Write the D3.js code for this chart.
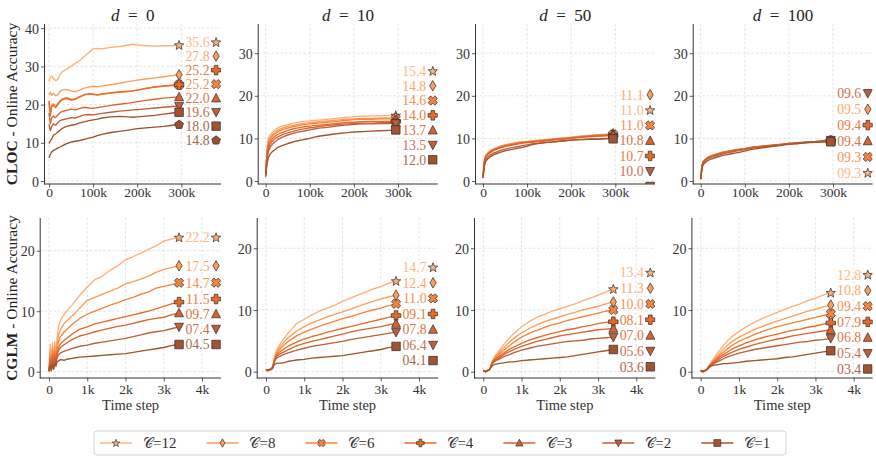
<!DOCTYPE html>
<html><head><meta charset="utf-8">
<script src="https://cdn.jsdelivr.net/npm/d3@7"></script>
<style>body{margin:0;background:#fff} svg{display:block}</style>
</head><body><svg id="c" width="876" height="456"></svg>
<script>
// ---------- data ----------
const seriesCount = [12, 8, 6, 4, 3, 2, 1];
const seriesMarkers = ["star", "thin_diamond", "X", "P", "tri_up", "tri_down", "square"];
const seriesColors = ["#fdb07a", "#fd9d5a", "#f6843e", "#e96b26", "#d7642f", "#bf5e38", "#a3532e"];
const extraMarker = "pentagon";
const extraColor = "#9a5030";
const datasetNames = ["CLOC", "CGLM"];
const delays = [0, 10, 50, 100];
const xTicksCLOC = [0, 100000, 200000, 300000];
const xTickLabelsCLOC = ["0", "100k", "200k", "300k"];
const xTicksCGLM = [0, 1000, 2000, 3000, 4000];
const xTickLabelsCGLM = ["0", "1k", "2k", "3k", "4k"];
const yTicksCLOCd0 = [0, 10, 20, 30, 40];
const yTicksCLOC = [0, 10, 20, 30];
const yTicksCGLM = [0, 10, 20];

const stepsCLOC = [0,3,6,10,15,20,25,30,40,50,60,70,80,90,100,110,120,140,160,180,190,200,220,240,260,280,295].map(v => v * 1000);
const stepsCGLM = [0,0.03,0.06,0.09,0.12,0.15,0.18,0.21,0.25,0.3,0.4,0.5,0.6,0.7,0.8,1.0,1.2,1.4,1.6,1.8,2.0,2.2,2.4,2.6,2.8,3.0,3.2,3.4].map(v => v * 1000);

// CLOC d=0: C=12,8,6,4,3,2,1 and one extra run (pentagon)
const clocD0 = [
  [26.0,27.2,27.5,26.8,26.3,26.6,27.8,28.6,29.3,30.0,30.8,31.6,32.6,33.6,34.6,34.7,34.6,35.0,35.2,35.6,35.8,35.6,35.4,35.3,35.4,35.4,35.6],
  [22.5,23.2,22.4,23.0,22.3,22.6,23.4,23.8,24.0,23.6,23.4,23.8,24.3,24.6,24.8,24.7,24.9,25.2,25.6,26.0,26.2,26.4,26.7,27.0,27.3,27.6,27.8],
  [20.5,18.0,19.8,20.2,19.6,20.3,21.0,21.5,21.8,21.4,21.5,22.1,22.5,22.9,22.8,22.6,22.8,23.1,23.3,23.4,23.6,23.8,24.3,24.6,24.8,25.0,25.18],
  [21.0,17.0,19.5,19.8,19.2,20.0,20.8,21.3,21.6,21.2,21.4,22.0,22.6,22.8,22.6,22.5,22.7,23.0,23.3,23.5,23.6,23.8,24.2,24.6,24.9,25.1,25.22],
  [17.8,15.0,16.5,17.0,16.6,17.3,17.9,18.2,18.5,18.8,18.6,19.0,19.3,19.1,19.0,19.2,19.4,19.8,20.1,20.4,20.6,20.8,21.1,21.4,21.7,21.9,22.0],
  [14.8,13.2,14.2,15.0,14.6,15.3,15.8,16.0,16.3,16.6,16.5,16.9,17.3,17.4,17.3,17.5,17.7,18.0,18.3,18.5,18.6,18.7,18.9,19.1,19.3,19.5,19.6],
  [9.8,10.5,11.0,12.0,12.3,12.8,13.3,13.8,14.3,14.6,14.8,15.2,15.5,15.8,16.0,16.2,16.5,16.8,16.9,16.8,16.7,16.8,17.0,17.2,17.5,17.8,18.0],
  [6.0,7.0,7.6,8.0,8.3,8.6,8.9,9.2,9.8,10.2,10.4,10.6,10.9,11.2,11.5,11.9,12.2,12.7,13.0,13.3,13.5,13.7,13.9,14.1,14.3,14.6,14.8]
];
const clocD10 = [
  [2.5,7.5,10.0,10.8,11.4,11.9,12.3,12.6,13.0,13.2,13.5,13.7,13.9,14.0,14.1,14.2,14.3,14.5,14.7,14.9,15.0,15.1,15.2,15.3,15.3,15.4,15.4],
  [2.2,7.0,9.4,10.3,10.9,11.4,11.8,12.1,12.5,12.8,13.0,13.2,13.4,13.6,13.7,13.8,13.9,14.1,14.3,14.5,14.5,14.6,14.7,14.7,14.8,14.8,14.8],
  [2.0,6.6,8.9,9.8,10.5,11.0,11.4,11.7,12.1,12.4,12.7,12.9,13.1,13.3,13.4,13.5,13.6,13.8,14.0,14.2,14.3,14.4,14.5,14.5,14.6,14.6,14.6],
  [1.8,6.1,8.3,9.2,9.9,10.4,10.8,11.1,11.5,11.9,12.2,12.4,12.6,12.8,12.9,13.0,13.1,13.3,13.5,13.7,13.8,13.8,13.9,14.0,14.0,14.0,14.0],
  [1.5,5.6,7.7,8.6,9.3,9.8,10.2,10.5,11.0,11.3,11.6,11.9,12.1,12.3,12.5,12.6,12.8,13.0,13.2,13.4,13.4,13.5,13.6,13.6,13.7,13.7,13.7],
  [1.3,5.0,7.0,7.9,8.6,9.1,9.5,9.9,10.4,10.8,11.1,11.4,11.6,11.8,12.0,12.2,12.4,12.6,12.9,13.1,13.2,13.3,13.4,13.4,13.5,13.5,13.5],
  [1.0,4.0,5.5,6.3,6.9,7.3,7.7,8.0,8.4,8.8,9.1,9.4,9.6,9.8,10.0,10.3,10.5,10.8,11.1,11.3,11.4,11.5,11.6,11.7,11.8,11.9,12.0]
];
const clocD50 = [
  [1.0,4.5,5.8,6.3,6.8,7.1,7.4,7.6,8.0,8.3,8.5,8.7,8.9,9.1,9.2,9.3,9.4,9.6,9.8,10.0,10.1,10.2,10.4,10.6,10.8,10.9,11.04],
  [1.2,4.8,6.0,6.5,7.0,7.3,7.6,7.8,8.2,8.5,8.7,8.9,9.1,9.2,9.3,9.4,9.5,9.7,9.9,10.1,10.2,10.3,10.5,10.7,10.9,11.0,11.1],
  [1.0,4.6,5.9,6.4,6.9,7.2,7.5,7.7,8.1,8.4,8.6,8.8,9.0,9.1,9.2,9.3,9.4,9.6,9.8,10.0,10.1,10.2,10.4,10.6,10.8,10.9,10.97],
  [0.9,4.3,5.6,6.1,6.6,6.9,7.2,7.4,7.8,8.1,8.3,8.5,8.7,8.9,9.0,9.1,9.2,9.4,9.6,9.8,9.9,10.0,10.2,10.4,10.5,10.6,10.7],
  [0.9,4.4,5.7,6.2,6.7,7.0,7.3,7.5,7.9,8.2,8.4,8.6,8.8,9.0,9.1,9.2,9.3,9.5,9.7,9.9,10.0,10.1,10.3,10.5,10.6,10.7,10.8],
  [0.8,3.8,5.0,5.5,6.0,6.3,6.6,6.8,7.2,7.5,7.7,7.9,8.1,8.3,8.5,8.7,8.8,9.0,9.2,9.4,9.5,9.6,9.7,9.8,9.9,10.0,10.0],
  [0.7,3.5,4.6,5.1,5.6,5.9,6.2,6.4,6.8,7.1,7.3,7.5,7.7,7.9,8.2,8.5,8.7,9.0,9.2,9.4,9.5,9.6,9.7,9.8,9.8,9.9,9.9]
];
const clocD100 = [
  [0.5,3.5,4.5,4.9,5.3,5.6,5.8,6.0,6.3,6.6,6.8,7.0,7.2,7.4,7.5,7.7,7.9,8.1,8.3,8.5,8.6,8.7,8.8,9.0,9.1,9.2,9.27],
  [0.6,3.7,4.7,5.1,5.5,5.8,6.0,6.2,6.5,6.8,7.0,7.2,7.4,7.5,7.6,7.8,8.0,8.2,8.4,8.6,8.7,8.8,8.9,9.1,9.2,9.4,9.5],
  [0.5,3.6,4.6,5.0,5.4,5.7,5.9,6.1,6.4,6.7,6.9,7.1,7.3,7.4,7.5,7.7,7.9,8.1,8.3,8.5,8.6,8.7,8.8,9.0,9.1,9.2,9.33],
  [0.5,3.6,4.6,5.0,5.4,5.7,5.9,6.1,6.4,6.7,6.9,7.1,7.3,7.5,7.6,7.8,8.0,8.2,8.4,8.6,8.7,8.8,8.9,9.1,9.2,9.3,9.43],
  [0.5,3.5,4.5,4.9,5.3,5.6,5.8,6.0,6.3,6.6,6.8,7.0,7.2,7.4,7.5,7.7,7.9,8.1,8.3,8.5,8.6,8.7,8.9,9.0,9.2,9.3,9.38],
  [0.4,3.3,4.3,4.7,5.1,5.4,5.6,5.8,6.1,6.4,6.6,6.8,7.0,7.2,7.4,7.6,7.8,8.1,8.3,8.5,8.7,8.8,9.0,9.2,9.3,9.5,9.6],
  [0.4,3.0,3.9,4.3,4.7,5.0,5.2,5.4,5.7,6.0,6.2,6.4,6.6,6.8,7.0,7.3,7.5,7.8,8.1,8.3,8.5,8.6,8.8,9.0,9.1,9.2,9.2]
];
const cglmD0 = [
  [0.2,4.5,0.8,4.8,1.5,5.0,3.0,5.5,7.5,8.5,9.5,10.3,11.0,11.8,12.6,14.0,15.2,15.8,16.8,17.5,18.5,19.0,19.6,20.2,20.8,21.6,21.9,22.2],
  [0.1,3.5,0.5,4.0,1.2,4.2,2.5,4.5,6.0,7.0,8.0,8.6,9.2,9.8,10.5,11.8,12.3,12.8,13.3,13.8,14.5,14.9,15.3,15.8,16.4,16.9,17.2,17.5],
  [0.1,2.8,0.4,3.5,1.0,3.6,2.0,3.8,5.0,5.8,6.6,7.2,7.8,8.3,8.8,9.5,10.0,10.5,11.0,11.4,11.9,12.3,12.8,13.2,13.8,14.1,14.4,14.7],
  [0.1,2.2,0.3,2.8,0.8,3.0,1.6,3.2,4.0,4.6,5.2,5.7,6.2,6.6,7.0,7.4,7.9,8.2,8.5,8.8,9.1,9.4,9.7,10.0,10.4,10.8,11.2,11.5],
  [0.1,1.8,0.3,2.4,0.6,2.5,1.4,2.8,3.5,4.0,4.5,4.9,5.3,5.6,5.9,6.2,6.6,6.9,7.2,7.5,7.7,8.0,8.3,8.6,8.8,9.0,9.4,9.7],
  [0.1,1.4,0.2,1.8,0.5,2.0,1.2,2.3,2.8,3.1,3.4,3.6,3.8,4.0,4.2,4.4,4.7,4.9,5.1,5.3,5.5,5.8,6.1,6.4,6.6,6.8,7.1,7.4],
  [0.0,1.0,0.2,1.2,0.4,1.4,0.9,1.6,1.8,2.0,1.9,2.1,2.2,2.3,2.4,2.5,2.6,2.7,2.8,2.9,3.0,3.2,3.4,3.6,3.8,4.0,4.3,4.5]
];
const cglmD10 = [
  [0.2,0.3,0.2,0.4,0.5,0.6,0.9,1.8,3.0,3.8,4.8,5.6,6.4,7.1,7.8,8.5,9.2,9.8,10.3,10.8,11.4,11.9,12.4,12.9,13.4,13.8,14.3,14.7],
  [0.2,0.3,0.2,0.4,0.5,0.6,0.9,1.8,2.8,3.5,4.3,5.0,5.6,6.1,6.6,7.3,7.9,8.4,8.9,9.3,9.7,10.1,10.6,11.0,11.4,11.8,12.1,12.4],
  [0.2,0.3,0.2,0.3,0.5,0.6,0.9,1.7,2.6,3.2,3.9,4.5,5.0,5.4,5.8,6.4,6.9,7.4,7.8,8.2,8.6,8.9,9.3,9.7,10.0,10.3,10.7,11.0],
  [0.2,0.3,0.2,0.3,0.4,0.5,0.8,1.6,2.4,2.9,3.4,3.8,4.2,4.5,4.8,5.3,5.7,6.0,6.4,6.7,7.0,7.3,7.6,7.9,8.2,8.5,8.8,9.1],
  [0.2,0.3,0.2,0.3,0.4,0.5,0.8,1.5,2.2,2.6,3.0,3.3,3.6,3.9,4.2,4.6,4.9,5.2,5.5,5.8,6.1,6.4,6.7,6.9,7.1,7.3,7.6,7.8],
  [0.2,0.3,0.2,0.3,0.4,0.5,0.7,1.4,2.0,2.3,2.6,2.9,3.1,3.3,3.5,3.8,4.1,4.3,4.5,4.7,4.9,5.2,5.4,5.6,5.8,6.0,6.2,6.4],
  [0.2,0.2,0.2,0.3,0.3,0.4,0.6,1.1,1.3,1.4,1.4,1.5,1.7,1.8,1.9,2.0,2.2,2.3,2.4,2.5,2.6,2.8,3.0,3.2,3.4,3.6,3.9,4.1]
];
const cglmD50 = [
  [0.2,0.1,0.0,0.1,0.2,0.3,0.6,1.2,1.9,2.5,3.3,4.1,4.9,5.6,6.2,7.3,8.1,8.8,9.3,9.8,10.2,10.6,11.0,11.5,11.9,12.4,12.9,13.4],
  [0.2,0.1,0.0,0.1,0.2,0.3,0.6,1.2,1.8,2.3,3.0,3.7,4.3,4.9,5.4,6.3,7.0,7.6,8.1,8.5,8.9,9.3,9.6,10.0,10.3,10.6,11.0,11.3],
  [0.2,0.1,0.0,0.1,0.2,0.3,0.6,1.2,1.7,2.1,2.7,3.3,3.8,4.3,4.8,5.6,6.2,6.7,7.2,7.6,7.9,8.3,8.6,8.9,9.2,9.5,9.8,10.0],
  [0.2,0.1,0.0,0.1,0.2,0.3,0.6,1.1,1.6,2.0,2.4,2.9,3.3,3.7,4.0,4.6,5.1,5.5,5.9,6.2,6.5,6.8,7.0,7.3,7.5,7.8,8.0,8.1],
  [0.2,0.1,0.0,0.1,0.2,0.3,0.5,1.0,1.5,1.9,2.2,2.6,3.0,3.3,3.6,4.1,4.5,4.9,5.2,5.5,5.8,6.0,6.2,6.4,6.6,6.8,6.9,7.0],
  [0.2,0.1,0.0,0.1,0.2,0.3,0.5,1.0,1.4,1.7,2.0,2.3,2.6,2.8,3.1,3.5,3.8,4.1,4.3,4.5,4.7,4.9,5.0,5.1,5.3,5.4,5.5,5.6],
  [0.2,0.1,0.0,0.1,0.2,0.3,0.5,0.8,1.0,1.2,1.3,1.4,1.5,1.6,1.6,1.8,1.9,2.0,2.1,2.2,2.3,2.4,2.6,2.8,3.0,3.2,3.4,3.6]
];
const cglmD100 = [
  [0.2,0.1,0.0,0.1,0.2,0.3,0.5,0.9,1.3,1.8,2.7,3.5,4.3,5.0,5.6,6.5,7.3,8.0,8.6,9.1,9.6,10.1,10.6,11.0,11.5,11.9,12.4,12.8],
  [0.2,0.1,0.0,0.1,0.2,0.3,0.5,0.9,1.2,1.6,2.3,3.0,3.7,4.3,4.8,5.6,6.2,6.8,7.3,7.8,8.2,8.6,9.0,9.4,9.8,10.1,10.5,10.8],
  [0.2,0.1,0.0,0.1,0.2,0.3,0.5,0.9,1.1,1.5,2.1,2.7,3.2,3.7,4.2,4.9,5.5,6.0,6.5,6.9,7.3,7.6,7.9,8.2,8.5,8.8,9.1,9.4],
  [0.2,0.1,0.0,0.1,0.2,0.3,0.5,0.8,1.1,1.4,1.9,2.4,2.8,3.2,3.6,4.2,4.7,5.1,5.5,5.8,6.1,6.4,6.7,6.9,7.2,7.4,7.7,7.9],
  [0.2,0.1,0.0,0.1,0.2,0.3,0.5,0.8,1.0,1.3,1.7,2.1,2.5,2.8,3.1,3.6,4.0,4.4,4.7,5.0,5.3,5.5,5.8,6.0,6.2,6.4,6.6,6.8],
  [0.2,0.1,0.0,0.1,0.2,0.3,0.4,0.7,0.9,1.2,1.5,1.8,2.1,2.4,2.6,3.0,3.3,3.6,3.8,4.0,4.2,4.4,4.6,4.8,4.9,5.1,5.2,5.4],
  [0.2,0.1,0.0,0.1,0.2,0.3,0.4,0.6,0.8,1.0,1.1,1.2,1.3,1.3,1.4,1.5,1.7,1.8,1.9,2.0,2.1,2.3,2.4,2.6,2.8,3.0,3.2,3.4]
];

// ---------- layout / style ----------
const W = 876, H = 456;
const rowTop = [24, 218], rowBottom = [184, 378];
const zeroX = [[49, 265.7, 483, 700.7], [49, 266, 483.3, 700.7]];
const leftPad = [[4.5, 7.5, 7.5, 7.5], [8.8, 8.8, 8.8, 8.8]];   // px between spine and x=0
const axWidth = 180;
const pxPerX = [0.441 / 1000, 38.25 / 1000];
const yDomains = [[[-0.785, 41.1], [-0.70, 36.85], [-0.70, 36.85], [-0.70, 36.85]],
                  [[-1.04, 25.4], [-1.02, 24.9], [-1.02, 24.9], [-1.02, 24.9]]];
const xTickBaseline = [197, 394];
const labelSpacing = [[14, 14.8, 15.3, 15.9], [15, 15.55, 15.7, 15.7]];
const labelShift = [[0, -6, 5, 0], [0, 0, 0, 0]];
const serif = "'Liberation Serif','DejaVu Serif',serif";
const textCol = "#333";

const svg = d3.select("#c");
svg.append("rect").attr("width", W).attr("height", H).attr("fill", "#fff");
const defs = svg.append("defs");

function poly(pts) { return "M" + pts.map(p => p[0].toFixed(2) + "," + p[1].toFixed(2)).join("L") + "Z"; }
function markerPath(type, r) {
  switch (type) {
    case "star": { const pts = []; for (let i = 0; i < 10; i++) { const a = -Math.PI / 2 + i * Math.PI / 5; const rr = i % 2 ? r * 0.42 : r; pts.push([rr * Math.cos(a), rr * Math.sin(a) + r * 0.08]); } return poly(pts); }
    case "thin_diamond": return poly([[0, -r * 1.05], [0.62 * r, 0], [0, r * 1.05], [-0.62 * r, 0]]);
    case "P": { const a = r * 0.36, b = r * 0.95; return poly([[-a, -b], [a, -b], [a, -a], [b, -a], [b, a], [a, a], [a, b], [-a, b], [-a, a], [-b, a], [-b, -a], [-a, -a]]); }
    case "X": { const a = r * 0.36, b = r * 0.95; const base = [[-a, -b], [a, -b], [a, -a], [b, -a], [b, a], [a, a], [a, b], [-a, b], [-a, a], [-b, a], [-b, -a], [-a, -a]]; const c = Math.SQRT1_2; return poly(base.map(p => [c * (p[0] - p[1]), c * (p[0] + p[1])])); }
    case "tri_up": return poly([[0, -r * 0.95], [r * 0.9, r * 0.75], [-r * 0.9, r * 0.75]]);
    case "tri_down": return poly([[0, r * 0.95], [r * 0.9, -r * 0.75], [-r * 0.9, -r * 0.75]]);
    case "square": { const s = r * 0.85; return poly([[-s, -s], [s, -s], [s, s], [-s, s]]); }
    case "pentagon": { const pts = []; for (let i = 0; i < 5; i++) { const a = -Math.PI / 2 + i * 2 * Math.PI / 5; pts.push([r * 0.92 * Math.cos(a), r * 0.92 * Math.sin(a) + r * 0.05]); } return poly(pts); }
  }
}

const panels = [
  [clocD0, clocD10, clocD50, clocD100],
  [cglmD0, cglmD10, cglmD50, cglmD100]
];
const fmt = d3.format("04.1f");

panels.forEach((rowData, r) => {
  rowData.forEach((runs, c) => {
    const left = zeroX[r][c] - leftPad[r][c];
    const right = zeroX[r][c] - 8 + axWidth;
    const top = rowTop[r], bottom = rowBottom[r];
    const x = d3.scaleLinear()
      .domain([-(zeroX[r][c] - left) / pxPerX[r], (right - zeroX[r][c]) / pxPerX[r]])
      .range([left, right]);
    const y = d3.scaleLinear().domain(yDomains[r][c]).range([bottom, top]);
    const steps = r === 0 ? stepsCLOC : stepsCGLM;
    const xTicks = r === 0 ? xTicksCLOC : xTicksCGLM;
    const xLabels = r === 0 ? xTickLabelsCLOC : xTickLabelsCGLM;
    const yTicks = r === 1 ? yTicksCGLM : (c === 0 ? yTicksCLOCd0 : yTicksCLOC);

    const g = svg.append("g");
    const clipId = "clip" + r + c;
    defs.append("clipPath").attr("id", clipId).append("rect")
      .attr("x", left).attr("y", top).attr("width", right - left).attr("height", bottom - top);

    // grid
    const grid = g.append("g").attr("stroke", "#d9d9d9").attr("stroke-width", 0.7).attr("stroke-dasharray", "2.5,2");
    xTicks.forEach(t => { const px = x(t); if (px <= right) grid.append("line").attr("x1", px).attr("x2", px).attr("y1", top).attr("y2", bottom); });
    yTicks.forEach(t => grid.append("line").attr("x1", left).attr("x2", right).attr("y1", y(t)).attr("y2", y(t)));

    // axes via d3
    const xAxis = d3.axisBottom(x).tickValues(xTicks).tickFormat((d, i) => xLabels[i]).tickSizeOuter(0).tickSizeInner(3.5).tickPadding(2);
    const yAxis = d3.axisLeft(y).tickValues(yTicks).tickFormat(d3.format("d")).tickSizeOuter(0).tickSizeInner(3.5).tickPadding(2);
    const gx = g.append("g").attr("transform", `translate(0,${bottom})`).call(xAxis);
    const gy = g.append("g").attr("transform", `translate(${left},0)`).call(yAxis);
    [gx, gy].forEach(ax => {
      ax.select(".domain").remove();
      ax.selectAll("line").attr("stroke", "#333").attr("stroke-width", 0.8);
      ax.selectAll("text").attr("fill", textCol).style("font-family", serif).style("font-size", "14px");
    });
    gx.selectAll("text").attr("y", 0).attr("dy", (xTickBaseline[r] - bottom) + "px").style("font-size", "13.5px");
    gy.selectAll("text").attr("dy", "0.36em");
    g.append("line").attr("x1", left).attr("x2", left).attr("y1", top).attr("y2", bottom + 0.4).attr("stroke", "#333").attr("stroke-width", 1);
    g.append("line").attr("x1", left - 0.4).attr("x2", right).attr("y1", bottom).attr("y2", bottom).attr("stroke", "#333").attr("stroke-width", 1);

    // series
    const series = runs.map((vals, i) => ({
      vals,
      color: i < 7 ? seriesColors[i] : extraColor,
      marker: i < 7 ? seriesMarkers[i] : extraMarker,
      order: i
    }));
    const plot = g.append("g").attr("clip-path", `url(#${clipId})`);
    const line = d3.line().x(d => x(d[0])).y(d => y(d[1]));
    series.forEach(s => {
      const pts = s.vals.map((v, k) => [steps[k], v]).filter(p => p[0] !== undefined);
      s.last = pts[pts.length - 1];
      plot.append("path").attr("d", line(pts)).attr("fill", "none").attr("stroke", s.color).attr("stroke-width", 1.35).attr("stroke-linejoin", "round");
    });
    series.forEach(s => {
      plot.append("path").attr("d", markerPath(s.marker, 5))
        .attr("transform", `translate(${x(s.last[0])},${y(s.last[1])})`)
        .attr("fill", s.color).attr("stroke", "#333").attr("stroke-width", 0.75);
    });

    // value labels (sorted, repelled column)
    const sorted = series.slice().sort((a, b) => b.last[1] - a.last[1]);
    const ys = sorted.map(s => y(s.last[1]) + labelShift[r][c]);
    const sp = labelSpacing[r][c];
    for (let it = 0; it < 3000; it++) {
      let moved = false;
      for (let i = 0; i < ys.length - 1; i++) {
        const gap = ys[i + 1] - ys[i];
        if (gap < sp - 1e-4) { const d = (sp - gap) / 2; ys[i] -= d; ys[i + 1] += d; moved = true; }
      }
      if (!moved) break;
    }
    const endX = x(steps[steps.length - 1]);
    sorted.forEach((s, i) => {
      if (ys[i] < bottom) {   // labels pushed below the axes are clipped away (as in the reference)
        plot.append("text").attr("x", endX + 30.5).attr("y", ys[i]).attr("dy", "0.35em")
          .attr("text-anchor", "end").attr("fill", s.color).attr("opacity", 0.88)
          .style("font-family", serif).style("font-size", "13.8px").text(fmt(s.last[1]));
      }
      plot.append("path").attr("d", markerPath(s.marker, 5))
        .attr("transform", `translate(${endX + 37},${ys[i]})`)
        .attr("fill", s.color).attr("stroke", "#333").attr("stroke-width", 0.75);
    });

    // titles
    if (r === 0) {
      const t = g.append("text").attr("x", (left + right) / 2).attr("y", 20.5).attr("text-anchor", "middle")
        .attr("fill", "#222").style("font-family", serif).style("font-size", "17px");
      t.append("tspan").attr("font-style", "italic").text("d");
      t.append("tspan").text("\u2002=\u2002" + delays[c]);
    } else {
      g.append("text").attr("x", (left + right) / 2).attr("y", 410).attr("text-anchor", "middle")
        .attr("fill", textCol).style("font-family", serif).style("font-size", "14.5px").text("Time step");
    }
    if (c === 0) {
      const cy = (top + bottom) / 2;
      const t = g.append("text").attr("transform", `translate(17,${cy}) rotate(-90)`).attr("text-anchor", "middle")
        .attr("fill", "#222").style("font-family", serif).style("font-size", "15.5px");
      t.append("tspan").attr("font-weight", "bold").text(datasetNames[r]);
      t.append("tspan").text(" - Online Accuracy");
    }
  });
});

// ---------- legend ----------
const lg = svg.append("g");
lg.append("rect").attr("x", 94).attr("y", 431).attr("width", 692).attr("height", 24).attr("rx", 3)
  .attr("fill", "#fff").attr("stroke", "#cfcfcf").attr("stroke-width", 0.9);
let lx = 100;
const ly = 443;
seriesCount.forEach((n, i) => {
  lg.append("line").attr("x1", lx).attr("x2", lx + 32).attr("y1", ly).attr("y2", ly).attr("stroke", seriesColors[i]).attr("stroke-width", 1.35);
  lg.append("path").attr("d", markerPath(seriesMarkers[i], 4)).attr("transform", `translate(${lx + 16},${ly})`)
    .attr("fill", seriesColors[i]).attr("stroke", "#333").attr("stroke-width", 0.7);
  const t = lg.append("text").attr("x", lx + 43).attr("y", ly).attr("dy", "0.35em").attr("fill", textCol)
    .style("font-family", serif).style("font-size", "15px");
  t.append("tspan").style("font-family", "'DejaVu Serif','DejaVu Sans',serif").style("font-size", "14px").text("\u{1D49E}");
  t.append("tspan").text("=" + n);
  const w = t.node().getComputedTextLength();
  lx = lx + 43 + w + 30;
});
</script></body></html>
